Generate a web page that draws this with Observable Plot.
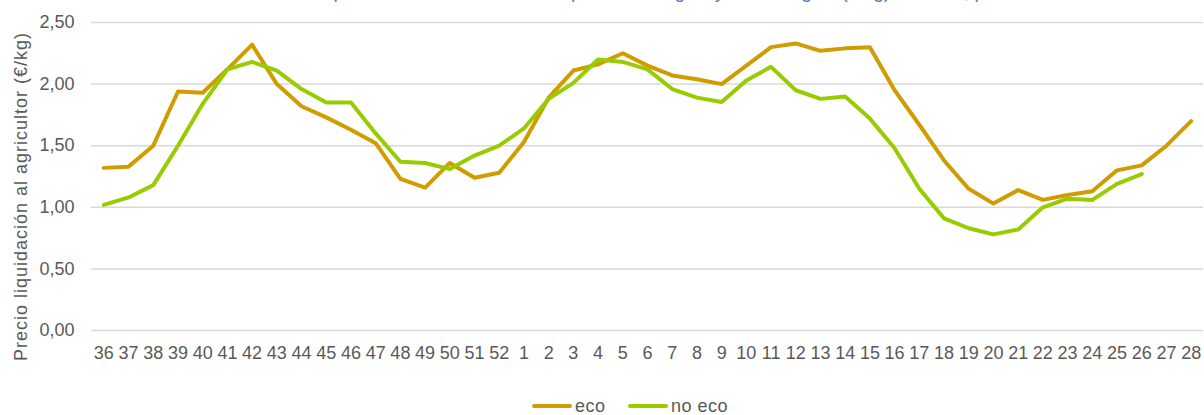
<!DOCTYPE html>
<html>
<head>
<meta charset="utf-8">
<script src="https://cdn.jsdelivr.net/npm/d3@7"></script>
<script src="https://cdn.jsdelivr.net/npm/@observablehq/plot@0.6"></script>
<style>
  html, body { margin: 0; padding: 0; background: #fff; overflow: hidden; }
  #wrap { position: relative; width: 1204px; height: 415px; font-family: "Liberation Sans", Arial, sans-serif; }
  #title { position: absolute; top: -18px; left: 0; width: 1290px; text-align: center; font-size: 19px; line-height: 19px; color: #4F7EBB; white-space: nowrap; }
  #chart { position: absolute; top: 0; left: 0; }
  #legend { position: absolute; top: 396px; left: 0; width: 1204px; height: 20px; font-size: 18px; color: #595959; }
  .sw { position: absolute; top: 8px; height: 4px; width: 40px; border-radius: 2px; }
  .lb { position: absolute; top: 0; line-height: 20px; letter-spacing: 0.5px; }
</style>
</head>
<body>
<div id="wrap">
  <div id="title"></div>
  <div id="chart"></div>
  <div id="legend"></div>
</div>
<script>
const weeks = ["36","37","38","39","40","41","42","43","44","45","46","47","48","49","50","51","52",
  "1","2","3","4","5","6","7","8","9","10","11","12","13","14","15","16","17","18","19","20","21","22","23","24","25","26","27","28"];
const eco = [1.32,1.33,1.50,1.94,1.93,2.12,2.32,2.00,1.82,1.73,1.63,1.52,1.23,1.16,1.36,1.24,1.28,
  1.53,1.89,2.11,2.16,2.25,2.15,2.07,2.04,2.00,2.15,2.30,2.33,2.27,2.29,2.30,1.95,1.67,1.38,1.15,1.03,1.14,1.06,1.10,1.13,1.30,1.34,1.50,1.70];
const noEco = [1.02,1.08,1.18,1.50,1.84,2.12,2.18,2.11,1.96,1.85,1.85,1.60,1.37,1.36,1.31,1.42,1.50,
  1.64,1.88,2.01,2.20,2.18,2.12,1.96,1.89,1.855,2.03,2.14,1.95,1.88,1.90,1.72,1.48,1.15,0.91,0.83,0.78,0.82,1.00,1.07,1.06,1.19,1.27,null,null];
const seriesNames = ["eco", "no eco"];
const seriesColors = ["#D09C00", "#99CC00"];
const yTicks = [0, 0.5, 1, 1.5, 2, 2.5];
const yTitle = "Precio liquidación al agricultor (€/kg)";
const chartTitle = "Evolución del precio medio semanal de la patata ecológica y no ecológica (€/kg) 2021/22, por semana";

document.getElementById("title").textContent = chartTitle;

const rows = [];
weeks.forEach((w, i) => {
  rows.push({week: w, value: eco[i], serie: seriesNames[0]});
  rows.push({week: w, value: noEco[i], serie: seriesNames[1]});
});

const fmt = v => v.toFixed(2).replace(".", ",");

const chart = Plot.plot({
  width: 1204,
  height: 375,
  marginTop: 22,
  marginBottom: 45,
  marginLeft: 91,
  marginRight: 1,
  style: {fontFamily: "'Liberation Sans', Arial, sans-serif", fontSize: "18px", color: "#595959", background: "transparent", overflow: "visible"},
  x: {type: "point", domain: weeks, padding: 0.5},
  y: {domain: [0, 2.5]},
  color: {domain: seriesNames, range: seriesColors},
  marks: [
    Plot.ruleY(yTicks, {stroke: "#D9D9D9", strokeWidth: 1.5}),
    Plot.axisY({ticks: yTicks, tickFormat: fmt, tickSize: 0, tickPadding: 17, label: null, fontSize: 18}),
    Plot.axisX({tickSize: 0, tickPadding: 16, label: null, fontSize: 18}),
    Plot.text([yTitle], {frameAnchor: "left", textAnchor: "middle", dx: -70, dy: 20, rotate: -90, fontSize: 18, fill: "#595959"}),
    Plot.lineY(rows.filter(d => d.serie === "eco"), {x: "week", y: "value", stroke: "serie", strokeWidth: 4, strokeLinejoin: "round", strokeLinecap: "round"}),
    Plot.lineY(rows.filter(d => d.serie === "no eco"), {x: "week", y: "value", stroke: "serie", strokeWidth: 4, strokeLinejoin: "round", strokeLinecap: "round"})
  ]
});
// widen the y title slightly to match the reference's wider typeface
chart.querySelectorAll("text").forEach(t => {
  if (t.textContent === yTitle) t.setAttribute("letter-spacing", "1");
});
document.getElementById("chart").appendChild(chart);

// legend
const legend = document.getElementById("legend");
const legendPos = [[532, 575], [628, 671]];
seriesNames.forEach((n, i) => {
  const sw = document.createElement("div");
  sw.className = "sw";
  sw.style.left = legendPos[i][0] + "px";
  sw.style.background = seriesColors[i];
  legend.appendChild(sw);
  const lb = document.createElement("div");
  lb.className = "lb";
  lb.style.left = legendPos[i][1] + "px";
  lb.textContent = n;
  legend.appendChild(lb);
});
</script>
</body>
</html>
